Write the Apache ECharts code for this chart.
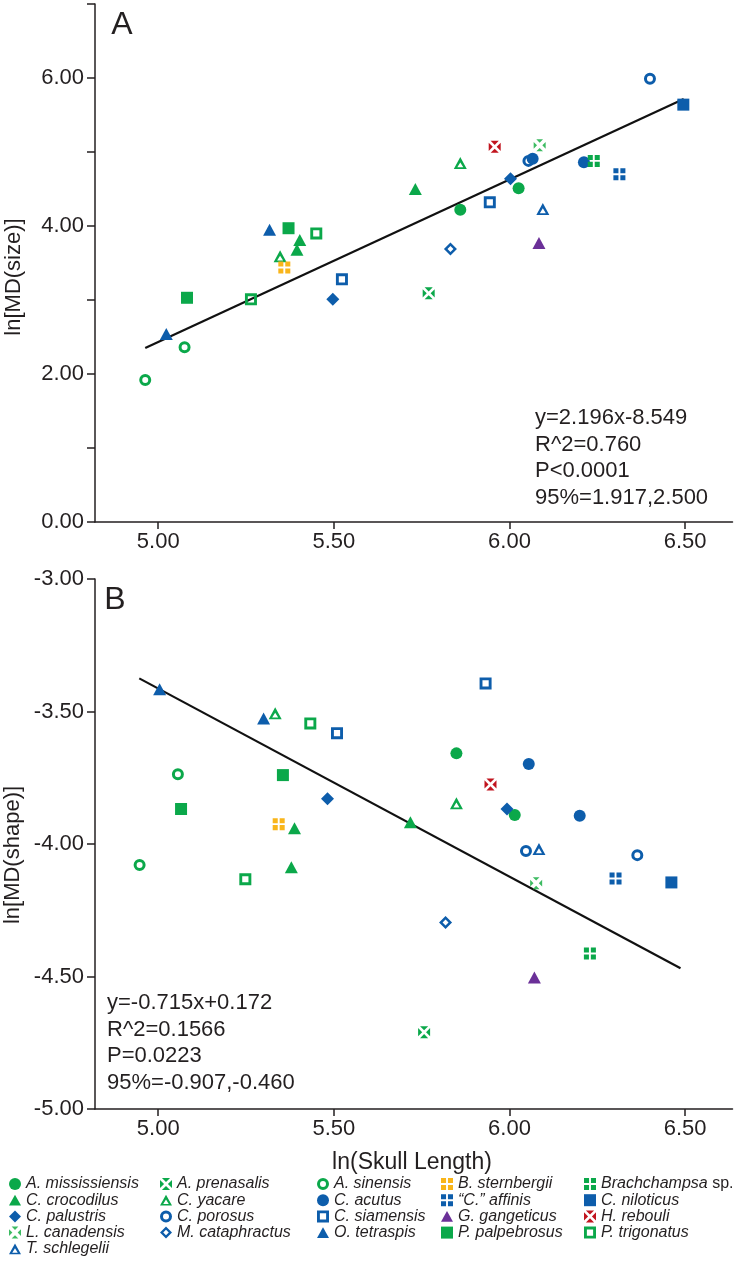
<!DOCTYPE html>
<html><head><meta charset="utf-8">
<script src="https://cdn.jsdelivr.net/npm/echarts@6/dist/echarts.min.js"></script>
<style>html,body{margin:0;padding:0;background:#fff}#c{width:743px;height:1264px}</style>
</head><body><div id="c"></div>
<script>
// ---------------- data ----------------
const species = ['A. mississiensis','C. crocodilus','C. palustris','L. canadensis','T. schlegelii',
  'A. prenasalis','C. yacare','C. porosus','M. cataphractus',
  'A. sinensis','C. acutus','C. siamensis','O. tetraspis',
  'B. sternbergii','\u201cC.\u201d affinis','G. gangeticus','P. palpebrosus',
  'Brachchampsa sp.','C. niloticus','H. rebouli','P. trigonatus'];

// Panel A: ln[MD(size)] vs ln(Skull Length)
const sizeSpecies = [9,9, 12,12, 16,16, 20,20, 1,1,1, 6,6, 13, 11,11, 2,2, 19, 3, 7,10,10,7, 0,0, 4, 15, 8, 5, 17, 14, 18];
const sizeX = [4.963,5.075, 5.023,5.317, 5.082,5.371, 5.264,5.450, 5.403,5.395,5.732, 5.347,5.860, 5.359, 5.523,5.944, 5.497,6.003, 5.958, 6.086, 6.054,6.066,6.212,6.400, 5.860,6.026, 6.095, 6.084, 5.832, 5.770, 6.240, 6.313, 6.495];
const sizeY = [1.92,2.36, 2.54,3.95, 3.03,3.97, 3.01,3.90, 3.81,3.68,4.50, 3.59,4.85, 3.44, 3.28,4.32, 3.01,4.64, 5.07, 5.09, 4.88,4.91,4.86,5.99, 4.22,4.51, 4.23, 3.77, 3.69, 3.09, 4.88, 4.70, 5.64];

// Panel B: ln[MD(shape)] vs ln(Skull Length)
const shapeSpecies = [12,12, 6,6, 20,20, 11,11, 9,9, 16,16, 2,2, 13, 1,1,1, 0,0, 10,10, 19, 7,7, 4, 14, 18, 3, 8, 17, 15, 5];
const shapeX = [5.004,5.300, 5.333,5.849, 5.433,5.248, 5.509,5.932, 5.056,4.947, 5.355,5.065, 5.482,5.993, 5.343, 5.388,5.718,5.379, 5.849,6.015, 6.055,6.200, 5.946, 6.047,6.364, 6.084, 6.302, 6.461, 6.076, 5.818, 6.229, 6.071, 5.757];
const shapeY = [-3.416,-3.526, -3.507,-3.846, -3.545,-4.133, -3.582,-3.394, -3.737,-4.079, -3.740,-3.868, -3.829,-3.868, -3.925, -3.941,-3.918,-4.088, -3.658,-3.891, -3.698,-3.893, -3.775, -4.026,-4.042, -4.019, -4.130, -4.145, -4.148, -4.296, -4.413, -4.504, -4.710];

// regression line end points
const fitSizeX = [4.963, 6.496];
const fitSizeY = [2.35, 5.716];
const fitShapeX = [4.946, 6.487];
const fitShapeY = [-3.375, -4.469];

const xTickValues = [5.0, 5.5, 6.0, 6.5];
const sizeStats = ['y=2.196x-8.549','R^2=0.760','P<0.0001','95%=1.917,2.500'];
const shapeStats = ['y=-0.715x+0.172','R^2=0.1566','P=0.0223','95%=-0.907,-0.460'];

// ---------------- styles ----------------
const GREEN='#0ba84a', LGREEN='#3dbb62', BLUE='#0d5dab', YELLOW='#f9b51a', RED='#c1141e', PURPLE='#6b3098';
const P = {
  circle: 'path://M50,0 A50,50 0 1,1 50,100 A50,50 0 1,1 50,0 Z',
  ring: 'path://M50,0 A50,50 0 1,1 50,100 A50,50 0 1,1 50,0 Z M50,25 A25,25 0 1,0 50,75 A25,25 0 1,0 50,25 Z',
  tri: 'path://M50,0 L100,90 L0,90 Z',
  otri: 'path://M50,0 L100,90 L0,90 Z M50,40 L27,77 L73,77 Z',
  dia: 'path://M50,0 L100,50 L50,100 L0,50 Z',
  odia: 'path://M50,0 L100,50 L50,100 L0,50 Z M50,27 L27,50 L50,73 L73,50 Z',
  sq: 'path://M0,0 L100,0 L100,100 L0,100 Z',
  osq: 'path://M0,0 L100,0 L100,100 L0,100 Z M24,24 L24,76 L76,76 L76,24 Z',
  quad: 'path://M0,0 L42,0 L42,42 L0,42 Z M58,0 L100,0 L100,42 L58,42 Z M0,58 L42,58 L42,100 L0,100 Z M58,58 L100,58 L100,100 L58,100 Z',
  xbox: 'path://M16,0 L84,0 L50,34 Z M100,16 L100,84 L66,50 Z M84,100 L16,100 L50,66 Z M0,84 L0,16 L34,50 Z',
  xbox2: 'path://M22,0 L78,0 L50,28 Z M100,22 L100,78 L72,50 Z M78,100 L22,100 L50,72 Z M0,78 L0,22 L28,50 Z'
};
const sym = [P.circle,P.tri,P.dia,P.xbox2,P.otri, P.xbox,P.otri,P.ring,P.odia, P.ring,P.circle,P.osq,P.tri, P.quad,P.quad,P.tri,P.sq, P.quad,P.sq,P.xbox,P.osq];
const col = [GREEN,GREEN,BLUE,LGREEN,BLUE, GREEN,GREEN,BLUE,BLUE, GREEN,BLUE,BLUE,BLUE, YELLOW,BLUE,PURPLE,GREEN, GREEN,BLUE,RED,GREEN];
const ssz = [12,[13,12],13,12,[13,12], 12,[13,12],12,13, 12,12,12,[13,12], 12,12,[13,12],12, 12,12,12,12];

const TXT='#231f20', FONT='Liberation Sans, Arial, sans-serif';

function buildSeries(spArr, xs, ys, gi) {
  return species.map((name, s) => ({
    type:'scatter', name, xAxisIndex:gi, yAxisIndex:gi,
    symbol: sym[s], symbolSize: ssz[s],
    itemStyle:{color: col[s], opacity:1},
    data: xs.map((x,i)=>[x, ys[i], spArr[i]]).filter(d=>d[2]===s).map(d=>[d[0],d[1]]),
    z: 3, silent:true, emphasis:{disabled:true}
  }));
}
function fitSeries(xs, ys, gi) {
  return {type:'line', name:'fit'+gi, xAxisIndex:gi, yAxisIndex:gi, symbol:'none', silent:true,
    data: xs.map((x,i)=>[x, ys[i]]), lineStyle:{color:'#111', width:2.2}, z:2};
}
const axisLine = {show:true, onZero:false, lineStyle:{color:TXT, width:1.5}};
const xAxes = [0,1].map(i=>({
  type:'value', gridIndex:i, min:4.82, max:6.635,
  axisLine, splitLine:{show:false},
  axisTick:{show:true, customValues:xTickValues, length:7, lineStyle:{color:TXT, width:1.5}},
  axisLabel:{customValues:xTickValues, formatter:v=>Number(v).toFixed(2), fontSize:22, color:TXT, fontFamily:FONT, margin:9}
}));
const yAxes = [
  {type:'value', gridIndex:0, min:0, max:7, interval:1, axisLine, splitLine:{show:false},
   axisTick:{show:true, length:8, lineStyle:{color:TXT, width:1.5}},
   axisLabel:{formatter:v=>(Math.round(v)%2===0? Number(v).toFixed(2):''), fontSize:22, color:TXT, fontFamily:FONT, margin:11, showMinLabel:true, showMaxLabel:true}},
  {type:'value', gridIndex:1, min:-5, max:-3, interval:0.5, axisLine, splitLine:{show:false},
   axisTick:{show:true, length:8, lineStyle:{color:TXT, width:1.5}},
   axisLabel:{formatter:v=>Number(v).toFixed(2), fontSize:22, color:TXT, fontFamily:FONT, margin:11, showMinLabel:true, showMaxLabel:true}}
];

const legendCols = [[0,1,2,3,4],[5,6,7,8],[9,10,11,12],[13,14,15,16],[17,18,19,20]];
const legendLeft = [9, 160, 317, 441, 584];
const legends = legendCols.map((c,k)=>({
  orient:'vertical', left:legendLeft[k], top:1176, padding:0, itemGap:0.2,
  itemWidth:12, itemHeight:12, selectedMode:false,
  data: c.map(s=>species[s]),
  formatter: n => n==='Brachchampsa sp.' ? '{i|Brachchampsa}{n| sp.}' : '{i|'+n+'}',
  textStyle:{color:TXT, fontSize:16, lineHeight:16, fontFamily:FONT,
    rich:{i:{fontStyle:'italic', fontSize:16, lineHeight:16, fontFamily:FONT, color:TXT},
          n:{fontStyle:'normal', fontSize:16, lineHeight:16, fontFamily:FONT, color:TXT}}}
}));

const graphic = [
  {type:'text', x:122, y:25, style:{text:'A', font:'32px '+FONT, fill:TXT, textAlign:'center', textVerticalAlign:'middle'}},
  {type:'text', x:115, y:600, style:{text:'B', font:'32px '+FONT, fill:TXT, textAlign:'center', textVerticalAlign:'middle'}},
  {type:'text', x:535, y:405, style:{text:sizeStats.join('\n'), font:'22px '+FONT, lineHeight:26.5, fill:TXT, textAlign:'left', textVerticalAlign:'top'}},
  {type:'text', x:107, y:990, style:{text:shapeStats.join('\n'), font:'22px '+FONT, lineHeight:26.5, fill:TXT, textAlign:'left', textVerticalAlign:'top'}},
  {type:'text', x:14, y:277, rotation:Math.PI/2, style:{text:'ln[MD(size)]', font:'22px '+FONT, fill:TXT, textAlign:'center', textVerticalAlign:'middle'}},
  {type:'text', x:13, y:855, rotation:Math.PI/2, style:{text:'ln[MD(shape)]', font:'22px '+FONT, fill:TXT, textAlign:'center', textVerticalAlign:'middle'}},
  {type:'text', x:412, y:1163, style:{text:'ln(Skull Length)', font:'23px '+FONT, fill:TXT, textAlign:'center', textVerticalAlign:'middle'}}
];

const chart = echarts.init(document.getElementById('c'), null, {renderer:'canvas'});
chart.setOption({
  animation:false, backgroundColor:'#fff',
  grid:[{left:95, top:4, width:637.5, height:518}, {left:95, top:579, width:637.5, height:530}],
  xAxis:xAxes, yAxis:yAxes, legend:legends, graphic,
  series:[fitSeries(fitSizeX, fitSizeY, 0), fitSeries(fitShapeX, fitShapeY, 1),
    ...buildSeries(sizeSpecies, sizeX, sizeY, 0), ...buildSeries(shapeSpecies, shapeX, shapeY, 1)]
});
</script></body></html>
